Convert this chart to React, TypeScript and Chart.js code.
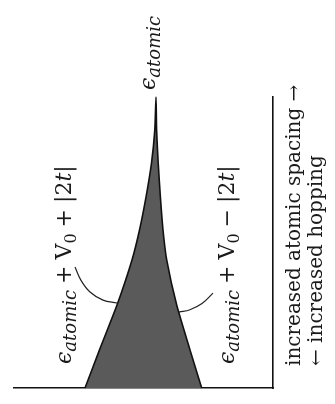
import React, { useEffect, useRef } from 'react';
import { Chart, registerables } from 'chart.js';

Chart.register(...registerables);

// vertical coordinate: atomic spacing (0 = bottom, 100 = top)
const spacing = [0, 13.1, 28.5, 44.0, 54.3, 65.6, 77.3, 88.7, 100];
// band edges (energy, relative to epsilon_atomic)
const upperEdge = [-7.1, -5.65, -3.9, -2.4, -1.65, -1.0, -0.45, -0.12, 0];
const lowerEdge = [4.57, 3.4, 2.07, 1.07, 0.7, 0.44, 0.22, 0.06, 0];

// leader lines from labels to band edges
const leftLeaderX = [-8.1, -7.5, -6.6, -5.3, -3.9];
const leftLeaderY = [41.6, 37.0, 33.0, 30.2, 29.2];
const rightLeaderX = [2.3, 3.4, 4.6, 5.7];
const rightLeaderY = [26.1, 26.9, 29.0, 32.6];

const xMin = -14.2;
const xMax = 11.7;
const yMin = 0;
const yMax = 100;

const FONT = '"DejaVu Serif", serif';

function Eps() {
  return (
    <>
      <span style={{ fontStyle: 'italic' }}>ϵ</span>
      <span style={{ fontStyle: 'italic', fontSize: 18, position: 'relative', top: 5 }}>atomic</span>
    </>
  );
}

function Op({ c }: { c: string }) {
  return <span style={{ margin: '0 6px' }}>{c}</span>;
}

function BandLabel({ sign }: { sign: string }) {
  return (
    <>
      <Eps />
      <Op c="+" />
      <span>V</span>
      <span style={{ fontSize: 16, position: 'relative', top: 5 }}>0</span>
      <Op c={sign} />
      <span>|2</span>
      <span style={{ fontStyle: 'italic' }}>t</span>
      <span>|</span>
    </>
  );
}

const rot: React.CSSProperties = {
  position: 'absolute',
  transform: 'rotate(-90deg)',
  transformOrigin: '0 0',
  whiteSpace: 'nowrap',
  fontFamily: FONT,
  color: '#1a1a1a',
};

export default function App() {
  const ref = useRef<HTMLCanvasElement>(null);

  useEffect(() => {
    const band = [
      ...spacing.map((s, i) => ({ x: upperEdge[i], y: s })),
      ...spacing
        .map((s, i) => ({ x: lowerEdge[i], y: s }))
        .reverse()
        .slice(1),
    ];
    const chart = new Chart(ref.current!, {
      type: 'scatter',
      data: {
        datasets: [
          {
            data: band,
            showLine: true,
            fill: 'shape',
            backgroundColor: '#5a5a5a',
            borderColor: '#111',
            borderWidth: 1.6,
            pointRadius: 0,
            tension: 0.2,
            clip: false,
          } as any,
          {
            data: leftLeaderX.map((x, i) => ({ x, y: leftLeaderY[i] })),
            showLine: true,
            borderColor: '#222',
            borderWidth: 1.2,
            pointRadius: 0,
            tension: 0.4,
          },
          {
            data: rightLeaderX.map((x, i) => ({ x, y: rightLeaderY[i] })),
            showLine: true,
            borderColor: '#222',
            borderWidth: 1.2,
            pointRadius: 0,
            tension: 0.4,
          },
        ],
      },
      options: {
        animation: false,
        responsive: false,
        maintainAspectRatio: false,
        devicePixelRatio: 1,
        layout: { padding: { left: 14, right: 62, top: 97, bottom: 16 } },
        plugins: { legend: { display: false }, tooltip: { enabled: false } },
        scales: {
          x: {
            type: 'linear',
            position: 'bottom',
            min: xMin,
            max: xMax,
            grid: { display: false, drawTicks: false },
            ticks: { display: false },
            border: { display: true, color: '#111', width: 1.6 },
          },
          y: {
            type: 'linear',
            position: 'right',
            min: yMin,
            max: yMax,
            grid: { display: false, drawTicks: false },
            ticks: { display: false },
            border: { display: true, color: '#111', width: 1.6 },
          },
        },
      },
    });
    return () => chart.destroy();
  }, []);

  return (
    <div style={{ position: 'fixed', left: 0, top: 0, width: 335, height: 404, background: '#fff', overflow: 'hidden' }}>
      <canvas ref={ref} width={335} height={404} style={{ position: 'absolute', left: 0, top: 0, width: 335, height: 404 }} />
      <div style={{ ...rot, left: 136, top: 90, fontSize: 22, lineHeight: '24px' }}>
        <Eps />
      </div>
      <div style={{ ...rot, left: 52, top: 364, fontSize: 22, lineHeight: '24px' }}>
        <BandLabel sign="+" />
      </div>
      <div style={{ ...rot, left: 215, top: 364, fontSize: 22, lineHeight: '24px' }}>
        <BandLabel sign="−" />
      </div>
      <div style={{ ...rot, left: 282, top: 366, fontSize: 20, lineHeight: '22px' }}>
        <div>increased atomic spacing →</div>
        <div>← increased hopping</div>
      </div>
    </div>
  );
}
